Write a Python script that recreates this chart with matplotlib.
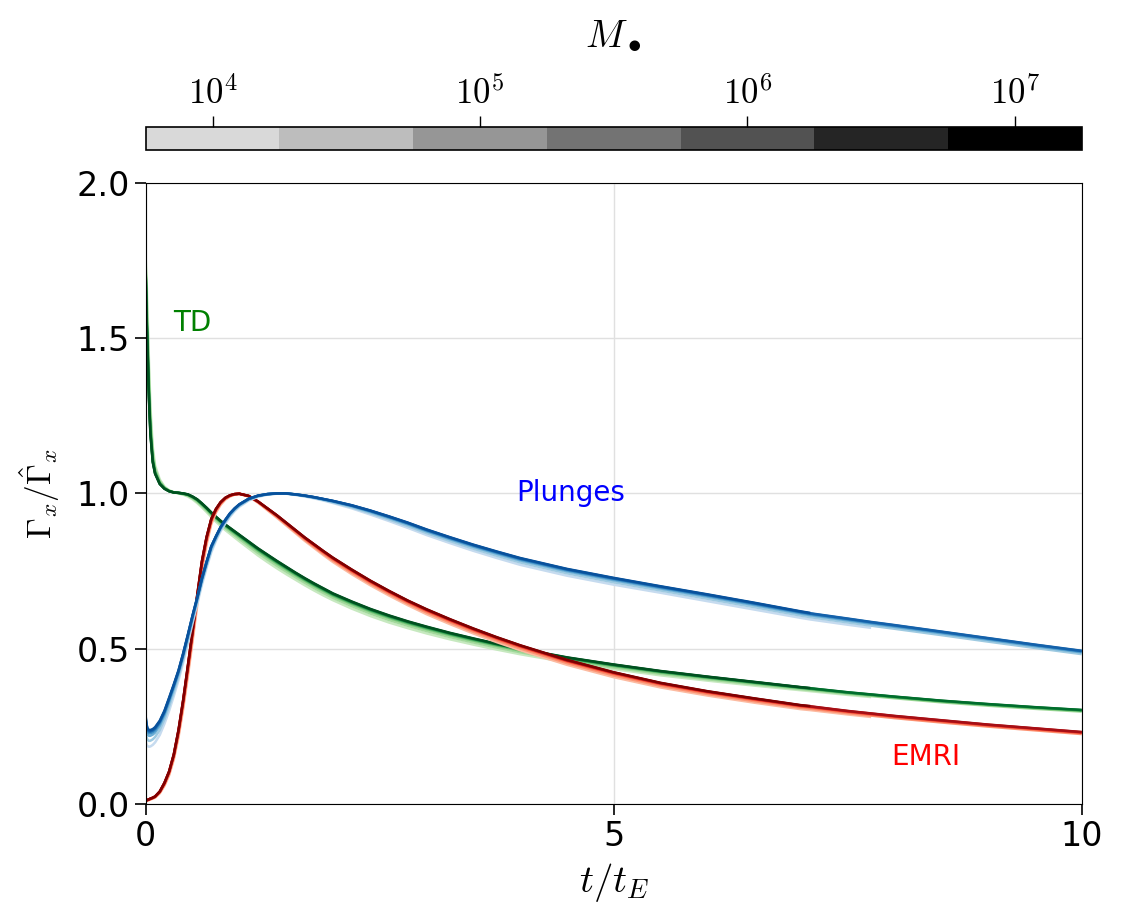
import matplotlib
matplotlib.use('Agg')
import matplotlib.pyplot as plt
from matplotlib.colors import ListedColormap, Normalize
from matplotlib.cm import ScalarMappable
import numpy as np

plt.rcParams['mathtext.fontset'] = 'cm'

# black hole masses (log10), one curve per mass and per channel
log_masses = [4.0, 4.5, 5.0, 5.5, 6.0, 6.5, 7.0]
# where each mass sits between the lightest and darkest curve
mass_weight = [0.0, 0.35, 0.65, 0.8, 0.9, 0.95, 1.0]
# time at which each mass curve stops (t/t_E), light -> dark
t_stop = [7.75, 10.0, 10.0, 10.0, 10.0, 10.0, 7.1]

grey_levels = ['#d9d9d9', '#bdbdbd', '#969696', '#737373', '#525252', '#252525', '#000000']
red_levels = ['#fcbba1', '#fc9272', '#fb6a4a', '#ef3b2c', '#cb181d', '#a50f15', '#7f0000']
blue_levels = ['#c6dbef', '#9ecae1', '#6baed6', '#4292c6', '#2171b5', '#1461aa', '#08519c']
green_levels = ['#c7e9c0', '#a1d99b', '#74c476', '#41ab5d', '#238b45', '#006d2c', '#00501f']

t = [0, 0.01, 0.02, 0.035, 0.05, 0.075, 0.1, 0.15, 0.2, 0.25, 0.3, 0.35, 0.4, 0.45,
     0.5, 0.55, 0.6, 0.65, 0.7, 0.75, 0.8, 0.85, 0.9, 0.95, 1.0, 1.1, 1.2, 1.3, 1.4,
     1.5, 1.6, 1.7, 1.8, 1.9, 2.0, 2.2, 2.4, 2.6, 2.8, 3.0, 3.25, 3.5, 3.75, 4.0,
     4.5, 5.0, 5.5, 6.0, 6.5, 7.0, 7.1, 7.5, 7.75, 8.0, 8.5, 9.0, 9.5, 10.0]

# EMRI rate, heaviest (dark) and lightest (light) mass
emri_dark = [0.012, 0.012, 0.013, 0.015, 0.017, 0.02, 0.024, 0.04, 0.068, 0.105,
             0.16, 0.238, 0.335, 0.445, 0.557, 0.673, 0.782, 0.86, 0.918, 0.95,
             0.972, 0.986, 0.994, 0.998, 0.999, 0.992, 0.974, 0.952, 0.93, 0.906,
             0.882, 0.858, 0.836, 0.814, 0.793, 0.755, 0.719, 0.686, 0.655, 0.627,
             0.595, 0.565, 0.537, 0.511, 0.464, 0.424, 0.39, 0.363, 0.34, 0.318,
             0.315, 0.3, 0.292, 0.284, 0.27, 0.256, 0.244, 0.232]
emri_light = [0.01, 0.01, 0.011, 0.012, 0.014, 0.017, 0.02, 0.034, 0.058, 0.092,
              0.143, 0.214, 0.305, 0.41, 0.522, 0.638, 0.75, 0.835, 0.9, 0.938,
              0.963, 0.98, 0.99, 0.996, 0.998, 0.99, 0.97, 0.946, 0.922, 0.897,
              0.872, 0.847, 0.824, 0.801, 0.779, 0.74, 0.704, 0.671, 0.64, 0.611,
              0.579, 0.549, 0.521, 0.495, 0.448, 0.408, 0.375, 0.349, 0.326, 0.305,
              0.302, 0.288, 0.28, 0.272, 0.258, 0.245, 0.233, 0.221]

# plunge rate
plunge_dark = [0.28, 0.255, 0.243, 0.238, 0.238, 0.241, 0.247, 0.268, 0.3, 0.342,
               0.385, 0.43, 0.485, 0.545, 0.607, 0.665, 0.727, 0.78, 0.83, 0.862,
               0.892, 0.915, 0.936, 0.952, 0.965, 0.983, 0.993, 0.998, 1.0, 1.0,
               0.997, 0.993, 0.988, 0.982, 0.976, 0.962, 0.945, 0.926, 0.906, 0.884,
               0.859, 0.835, 0.813, 0.792, 0.757, 0.728, 0.701, 0.675, 0.648, 0.62,
               0.615, 0.598, 0.587, 0.577, 0.556, 0.535, 0.514, 0.494]
plunge_light = [0.2, 0.19, 0.186, 0.184, 0.185, 0.19, 0.198, 0.222, 0.258, 0.3,
                0.348, 0.398, 0.455, 0.518, 0.582, 0.643, 0.705, 0.76, 0.81, 0.847,
                0.878, 0.903, 0.925, 0.943, 0.957, 0.977, 0.989, 0.996, 0.999, 0.999,
                0.995, 0.99, 0.984, 0.977, 0.969, 0.952, 0.932, 0.911, 0.889, 0.866,
                0.84, 0.815, 0.792, 0.77, 0.735, 0.706, 0.68, 0.653, 0.626, 0.599,
                0.594, 0.577, 0.567, 0.557, 0.537, 0.516, 0.496, 0.476]

# tidal disruption rate
td_dark = [1.7, 1.55, 1.45, 1.3, 1.19, 1.1, 1.063, 1.03, 1.015, 1.007, 1.003,
           1.002, 1.0, 0.997, 0.99, 0.981, 0.968, 0.954, 0.939, 0.925, 0.912, 0.9,
           0.889, 0.878, 0.867, 0.845, 0.823, 0.803, 0.783, 0.764, 0.745, 0.727,
           0.71, 0.694, 0.678, 0.652, 0.628, 0.607, 0.588, 0.571, 0.551, 0.533,
           0.516, 0.5, 0.472, 0.449, 0.428, 0.41, 0.393, 0.376, 0.373, 0.36,
           0.353, 0.346, 0.333, 0.322, 0.312, 0.303]
td_light = [1.75, 1.68, 1.58, 1.42, 1.28, 1.15, 1.09, 1.045, 1.022, 1.01, 1.004,
            1.0, 0.996, 0.99, 0.981, 0.969, 0.955, 0.94, 0.924, 0.909, 0.895, 0.882,
            0.87, 0.858, 0.846, 0.823, 0.8, 0.779, 0.759, 0.74, 0.722, 0.704, 0.687,
            0.671, 0.656, 0.629, 0.605, 0.584, 0.566, 0.549, 0.53, 0.513, 0.497,
            0.482, 0.456, 0.434, 0.414, 0.397, 0.381, 0.366, 0.363, 0.351, 0.344,
            0.337, 0.324, 0.313, 0.303, 0.294]

labels = [('TD', 0.29, 1.55, 'green'), ('Plunges', 3.96, 1.0, 'blue'), ('EMRI', 7.96, 0.15, 'red')]

fig = plt.figure(figsize=(11.21, 9.24), dpi=100)
ax = fig.add_axes([0.130, 0.130, 0.835, 0.672])
cax = fig.add_axes([0.130, 0.8377, 0.835, 0.0249])

tt = np.array(t)
families = [(td_dark, td_light, green_levels),
            (emri_dark, emri_light, red_levels),
            (plunge_dark, plunge_light, blue_levels)]
for dark, light, colors in families:
    dark, light = np.array(dark), np.array(light)
    for i, w in enumerate(mass_weight):
        y = w * dark + (1 - w) * light
        keep = tt <= t_stop[i] + 1e-9
        ax.plot(tt[keep], y[keep], color=colors[i], lw=1.8, solid_capstyle='butt')

for text, x, y, c in labels:
    ax.text(x, y, text, color=c, fontsize=20, va='center', ha='left')

ax.set_xlim(0, 10)
ax.set_ylim(0, 2)
ax.set_xticks([0, 5, 10])
ax.set_yticks([0, 0.5, 1.0, 1.5, 2.0])
ax.set_yticklabels(['0.0', '0.5', '1.0', '1.5', '2.0'])
ax.grid(True, color='#e0e0e0', lw=1)
ax.set_axisbelow(True)
ax.tick_params(labelsize=24, length=8, width=1.2, direction='out')
ax.set_xlabel(r'$t/t_E$', fontsize=28, labelpad=6)
ax.set_ylabel(r'$\Gamma_x/\hat{\Gamma}_x$', fontsize=24, labelpad=10)

sm = ScalarMappable(norm=Normalize(3.75, 7.25), cmap=ListedColormap(grey_levels))
cb = fig.colorbar(sm, cax=cax, orientation='horizontal',
                  boundaries=np.arange(3.75, 7.26, 0.5), ticks=[4, 5, 6, 7])
cb.ax.xaxis.set_ticks_position('top')
cb.ax.xaxis.set_label_position('top')
cb.ax.set_xticklabels([r'$10^{%d}$' % k for k in [4, 5, 6, 7]])
cb.ax.tick_params(labelsize=25, length=8, width=1, direction='out')
cb.set_label(r'$M_\bullet$', fontsize=28, labelpad=22)
cb.outline.set_linewidth(1.2)

fig.savefig('out.png', dpi=100)
